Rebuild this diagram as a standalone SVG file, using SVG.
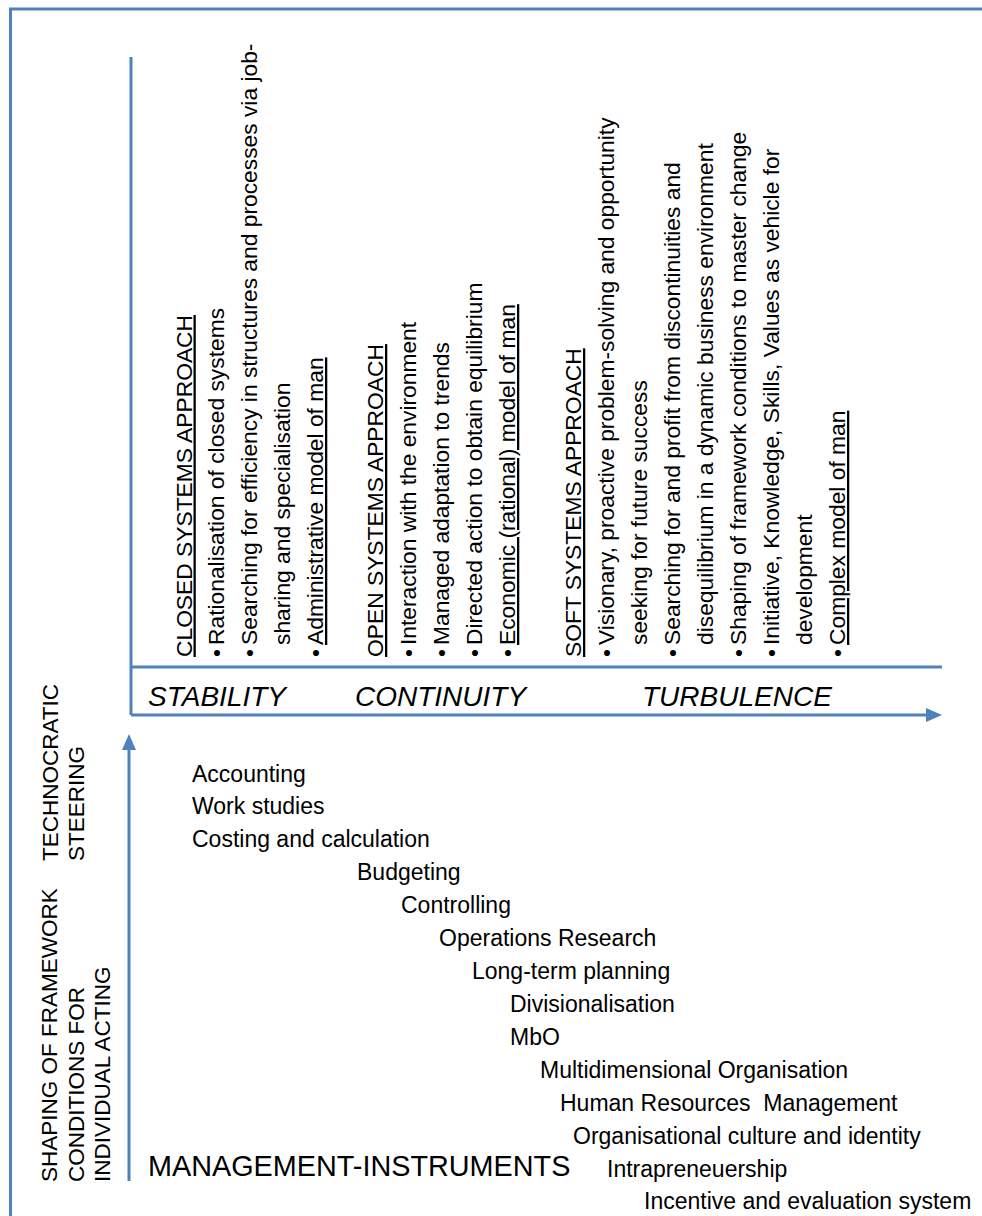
<svg xmlns="http://www.w3.org/2000/svg" width="982" height="1216" viewBox="0 0 982 1216">
  <defs>
    <style>
      text { font-family: "Liberation Sans", Arial, sans-serif; fill: #000; }
      .col { font-size: 22.8px; }
      .u { text-decoration: underline; }
      .side { font-size: 22.5px; }
      .item { font-size: 23px; }
      .phase { font-size: 28px; font-style: italic; }
      .big { font-size: 28.8px; }
      .ln { stroke: #4F81BD; stroke-width: 3; fill: none; }
    </style>
    <marker id="ah" viewBox="0 0 16 14" refX="0" refY="7" markerWidth="16" markerHeight="14" markerUnits="userSpaceOnUse" orient="auto">
      <path d="M0,0 L16,7 L0,14 Z" fill="#4F81BD"/>
    </marker>
  </defs>
  <rect width="982" height="1216" fill="#fff"/>

  <g id="connectors">
    <path class="ln" d="M10.5,1216 V9 H982"/>
    <path class="ln" d="M131,57 V715"/>
    <path class="ln" d="M131,667 H942"/>
    <path class="ln" d="M131,715 H926" marker-end="url(#ah)"/>
    <path class="ln" d="M129,1181 V750" marker-end="url(#ah)"/>
  </g>

  <g id="closed-systems">
    <text class="col u" transform="translate(191.5,657) rotate(-90)">CLOSED SYSTEMS APPROACH</text>
    <text class="col" transform="translate(224,657) rotate(-90)">•</text>
    <text class="col" transform="translate(224,645) rotate(-90)">Rationalisation of closed systems</text>
    <text class="col" transform="translate(257,657) rotate(-90)">•</text>
    <text class="col" transform="translate(257,645) rotate(-90)">Searching for efficiency in structures and processes via job-</text>
    <text class="col" transform="translate(290,645) rotate(-90)">sharing and specialisation</text>
    <text class="col" transform="translate(323,657) rotate(-90)">•</text>
    <text class="col u" transform="translate(323,645) rotate(-90)">Administrative model of man</text>
  </g>

  <g id="open-systems">
    <text class="col u" transform="translate(383,657) rotate(-90)">OPEN SYSTEMS APPROACH</text>
    <text class="col" transform="translate(416,657) rotate(-90)">•</text>
    <text class="col" transform="translate(416,645) rotate(-90)">Interaction with the environment</text>
    <text class="col" transform="translate(449,657) rotate(-90)">•</text>
    <text class="col" transform="translate(449,645) rotate(-90)">Managed adaptation to trends</text>
    <text class="col" transform="translate(482,657) rotate(-90)">•</text>
    <text class="col" transform="translate(482,645) rotate(-90)">Directed action to obtain equilibrium</text>
    <text class="col" transform="translate(515,657) rotate(-90)">•</text>
    <text class="col u" transform="translate(515,645) rotate(-90)">Economic (rational) model of man</text>
  </g>

  <g id="soft-systems">
    <text class="col u" transform="translate(581,657) rotate(-90)">SOFT SYSTEMS APPROACH</text>
    <text class="col" transform="translate(614,657) rotate(-90)">•</text>
    <text class="col" transform="translate(614,645) rotate(-90)">Visionary, proactive problem-solving and opportunity</text>
    <text class="col" transform="translate(647,645) rotate(-90)">seeking for future success</text>
    <text class="col" transform="translate(680,657) rotate(-90)">•</text>
    <text class="col" transform="translate(680,645) rotate(-90)">Searching for and profit from discontinuities and</text>
    <text class="col" transform="translate(713,645) rotate(-90)">disequilibrium in a dynamic business environment</text>
    <text class="col" transform="translate(746,657) rotate(-90)">•</text>
    <text class="col" transform="translate(746,645) rotate(-90)">Shaping of framework conditions to master change</text>
    <text class="col" transform="translate(779,657) rotate(-90)">•</text>
    <text class="col" transform="translate(779,645) rotate(-90)">Initiative, Knowledge, Skills, Values as vehicle for</text>
    <text class="col" transform="translate(812,645) rotate(-90)">development</text>
    <text class="col" transform="translate(845,657) rotate(-90)">•</text>
    <text class="col u" transform="translate(845,645) rotate(-90)">Complex model of man</text>
  </g>

  <g id="phases">
    <text class="phase" x="148" y="706">STABILITY</text>
    <text class="phase" x="355" y="706">CONTINUITY</text>
    <text class="phase" x="642" y="706">TURBULENCE</text>
  </g>

  <g id="technocratic-steering">
    <text class="side" transform="translate(57.5,861) rotate(-90)">TECHNOCRATIC</text>
    <text class="side" transform="translate(84,861) rotate(-90)">STEERING</text>
  </g>

  <g id="shaping-framework">
    <text class="side" transform="translate(57,1182) rotate(-90)">SHAPING OF FRAMEWORK</text>
    <text class="side" transform="translate(83.5,1182) rotate(-90)">CONDITIONS FOR</text>
    <text class="side" transform="translate(110,1182) rotate(-90)">INDIVIDUAL ACTING</text>
  </g>

  <g id="management-instruments">
    <text class="big" x="148" y="1176">MANAGEMENT-INSTRUMENTS</text>
  </g>

  <g id="instruments">
    <text class="item" x="192" y="782">Accounting</text>
    <text class="item" x="192" y="814">Work studies</text>
    <text class="item" x="192" y="847">Costing and calculation</text>
    <text class="item" x="357" y="880">Budgeting</text>
    <text class="item" x="401" y="913">Controlling</text>
    <text class="item" x="439" y="946">Operations Research</text>
    <text class="item" x="472" y="979">Long-term planning</text>
    <text class="item" x="510" y="1012">Divisionalisation</text>
    <text class="item" x="510" y="1045">MbO</text>
    <text class="item" x="540" y="1078">Multidimensional Organisation</text>
    <text class="item" x="560" y="1111" xml:space="preserve">Human Resources  Management</text>
    <text class="item" x="573" y="1144">Organisational culture and identity</text>
    <text class="item" x="607" y="1177">Intrapreneuership</text>
    <text class="item" x="644" y="1209">Incentive and evaluation system</text>
  </g>
</svg>
